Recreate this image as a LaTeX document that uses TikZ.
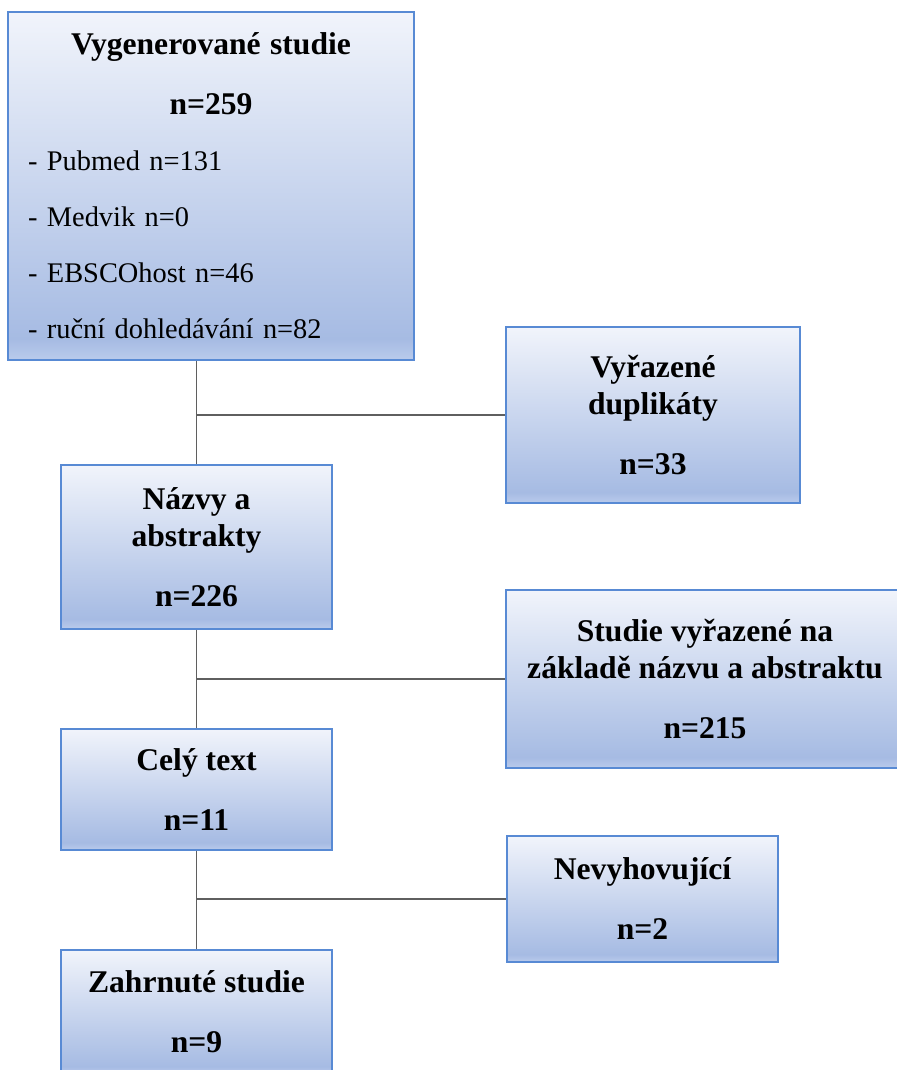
\documentclass[tikz,border=0pt]{standalone}
\usepackage{fontspec}
\setmainfont{Liberation Serif}
\usepackage{tikz}

\definecolor{boxtop}{RGB}{241,244,251}
\definecolor{boxmid}{RGB}{166,187,227}
\definecolor{boxbot}{RGB}{186,203,236}
\definecolor{boxline}{RGB}{88,138,212}
\definecolor{connline}{RGB}{95,95,95}
\pgfdeclareverticalshading{boxfill}{100bp}{color(0bp)=(boxbot); color(25bp)=(boxbot); color(28bp)=(boxmid); color(75bp)=(boxtop); color(100bp)=(boxtop)}

\begin{document}
\begin{tikzpicture}[x=0.5pt, y=-0.5pt,
    stage/.style={draw=boxline, line width=0.9pt, shading=boxfill, align=center, inner sep=0pt, font=\bfseries\fontsize{15.8}{18.5}\selectfont},
    conn/.style={draw=connline, line width=0.8pt}]
    \useasboundingbox (0,0) rectangle (897,1070);
    \clip (0,0) rectangle (897,1070);
    %% Boxes
    \node[stage, minimum width=203pt, minimum height=174pt, text width=183pt, align=left, font=\fontsize{14.2}{28}\selectfont] (gen) at (211,186)
        {\makebox[\linewidth]{\bfseries\fontsize{15.8}{28}\selectfont Vygenerované studie}\\[2pt]
         \makebox[\linewidth]{\bfseries\fontsize{15.8}{28}\selectfont n=259}\\
         - Pubmed n=131\\
         - Medvik n=0\\
         - EBSCOhost n=46\\
         - ruční dohledávání n=82};
    \node[stage, minimum width=147pt, minimum height=88pt] (dup) at (653,415) {Vyřazené\\duplikáty\\[11.5pt]n=33};
    \node[stage, minimum width=135.5pt, minimum height=82pt] (abs) at (196.5,547) {Názvy a\\abstrakty\\[11.5pt]n=226};
    \node[stage, minimum width=199pt, minimum height=89pt] (excl) at (705,679) {Studie vyřazené na\\základě názvu a abstraktu\\[11.5pt]n=215};
    \node[stage, minimum width=135.5pt, minimum height=60.5pt] (full) at (196.5,789.5) {Celý text\\[11.5pt]n=11};
    \node[stage, minimum width=135.5pt, minimum height=63pt] (nev) at (642.5,899) {Nevyhovující\\[11.5pt]n=2};
    \node[stage, minimum width=135.5pt, minimum height=62pt] (incl) at (196.5,1012) {Zahrnuté studie\\[11.5pt]n=9};
    %% Connectors
    \draw[conn] (gen.south -| abs.north) -- (abs.north);
    \draw[conn] (abs.north |- dup.west) -- (dup.west);
    \draw[conn] (abs.south) -- (full.north);
    \draw[conn] (full.north |- excl.west) -- (excl.west);
    \draw[conn] (full.south) -- (incl.north);
    \draw[conn] (incl.north |- nev.west) -- (nev.west);
\end{tikzpicture}
\end{document}
